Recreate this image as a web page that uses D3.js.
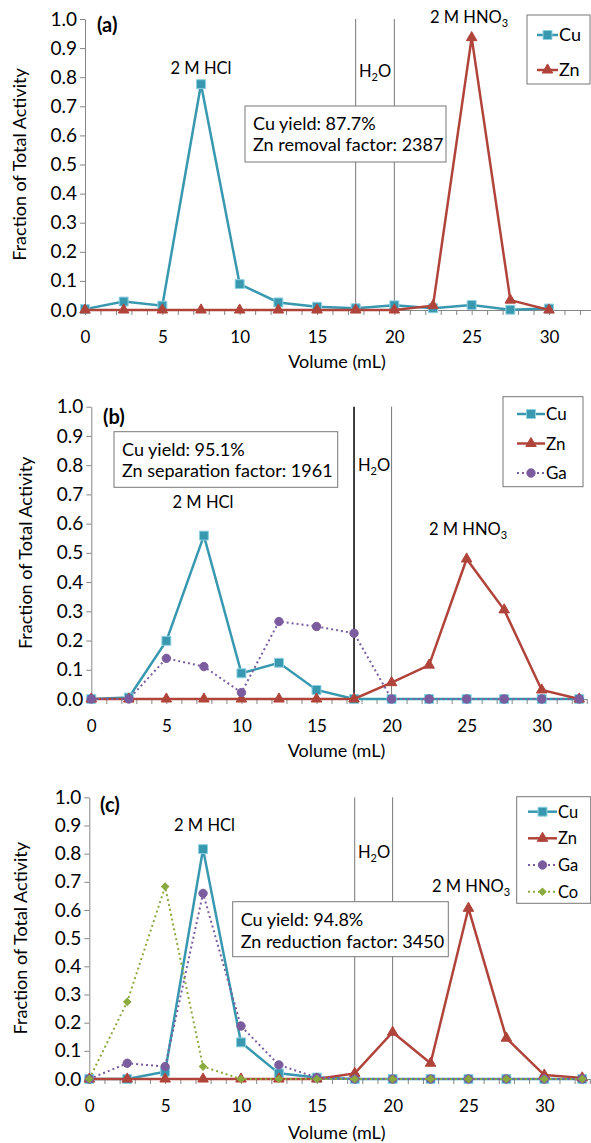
<!DOCTYPE html>
<html>
<head>
<meta charset="utf-8">
<script src="https://cdn.jsdelivr.net/npm/d3@7"></script>
<style>
  body { margin: 0; background: #fff; }
  text { font-family: Lato, "Open Sans", sans-serif; fill: #000; }
</style>
</head>
<body>
<svg width="591" height="1143"></svg>
<script>
// DATA
const volA = [0, 2.5, 5, 7.5, 10, 12.5, 15, 17.5, 20, 22.5, 25, 27.5, 30];
const volBC = [0, 2.5, 5, 7.5, 10, 12.5, 15, 17.5, 20, 22.5, 25, 27.5, 30, 32.5];

const cuA = [0.003, 0.029, 0.015, 0.776, 0.089, 0.026, 0.011, 0.006, 0.016, 0.006, 0.017, 0.001, 0.005];
const znA = [0, 0, 0, 0, 0, 0, 0, 0, 0, 0.015, 0.936, 0.034, 0];

const cuB = [0, 0.005, 0.199, 0.559, 0.088, 0.124, 0.031, 0, 0, 0, 0, 0, 0, 0];
const znB = [0, 0, 0, 0, 0, 0, 0, 0, 0.056, 0.116, 0.479, 0.305, 0.031, 0];
const gaB = [0, 0, 0.139, 0.111, 0.022, 0.265, 0.248, 0.225, 0, 0, 0, 0, 0, 0];

const cuC = [0, 0, 0.026, 0.816, 0.130, 0.020, 0.005, 0, 0, 0, 0, 0, 0, 0];
const znC = [0, 0, 0, 0, 0, 0, 0, 0.020, 0.166, 0.056, 0.606, 0.145, 0.014, 0.004];
const gaC = [0, 0.056, 0.044, 0.659, 0.188, 0.050, 0.005, 0, 0, 0, 0, 0, 0, 0];
const coC = [0, 0.274, 0.683, 0.044, 0, 0, 0, 0, 0, 0, 0, 0, 0, 0];

const yTicks = [0, 0.1, 0.2, 0.3, 0.4, 0.5, 0.6, 0.7, 0.8, 0.9, 1.0];
const xLabels = [0, 5, 10, 15, 20, 25, 30];
const xMinor = d3.range(0, 34);
const waterStart = 17.5;
const waterEnd = 20;

// STYLES
const styles = {
  Cu: { color: '#3798b0', edge: '#8fd0e0', symbol: d3.symbolSquare, size: 80, dash: null, width: 2.5 },
  Zn: { color: '#b0443b', edge: '#b0443b', symbol: d3.symbolTriangle, size: 48, dash: null, width: 2.5 },
  Ga: { color: '#7b5d9f', edge: '#7b5d9f', symbol: d3.symbolCircle, size: 55, dash: '2,3', width: 2 },
  Co: { color: '#8aaa3e', edge: '#8aaa3e', symbol: d3.symbolSquare, size: 26, rotate: 45, dash: '2,3', width: 2 }
};

// PANELS (layout only)
const panels = [
  {
    tag: '(a)', x0: 85, x30: 549, top: 19, bottom: 310,
    series: [['Cu', volA, cuA], ['Zn', volA, znA]],
    strongWater: false,
    tagPos: [97, 32],
    yTitleX: 26, xTitleY: 368,
    hcl: [201, 74], h2o: [359, 77], hno3: [430, 23],
    box: { x: 245, y: 106, w: 201, h: 56, lines: ['Cu yield: 87.7%', 'Zn removal factor: 2387'], ys: [130, 151] },
    legend: { x: 527, y: 15, w: 63, h: 69, rows: [35, 70], l1: 537, l2: 558, fs: 18 }
  },
  {
    tag: '(b)', x0: 91.3, x30: 541.7, top: 406.7, bottom: 699,
    series: [['Cu', volBC, cuB], ['Zn', volBC, znB], ['Ga', volBC, gaB]],
    strongWater: true,
    tagPos: [103, 424],
    yTitleX: 32, xTitleY: 757,
    hcl: [203, 508], h2o: [358, 471], hno3: [429, 535],
    box: { x: 114, y: 431.7, w: 223.7, h: 55.6, lines: ['Cu yield: 95.1%', 'Zn separation factor: 1961'], ys: [456, 477] },
    legend: { x: 503, y: 396.7, w: 80, h: 90, rows: [414, 443.5, 473], l1: 517, l2: 545, fs: 17 }
  },
  {
    tag: '(c)', x0: 89.3, x30: 544.3, top: 797.3, bottom: 1079,
    series: [['Cu', volBC, cuC], ['Zn', volBC, znC], ['Ga', volBC, gaC], ['Co', volBC, coC]],
    strongWater: false,
    tagPos: [100, 812],
    yTitleX: 27, xTitleY: 1139,
    hcl: [204.5, 831], h2o: [358, 858], hno3: [432, 892],
    box: { x: 232.7, y: 901.7, w: 215.6, h: 55, lines: ['Cu yield: 94.8%', 'Zn reduction factor: 3450'], ys: [926, 948] },
    legend: { x: 516.7, y: 796.7, w: 74, h: 106.6, rows: [811.7, 838.3, 865, 891.7], l1: 528, l2: 557, fs: 16.5 }
  }
];

const svg = d3.select('svg');

panels.forEach(drawPanel);

function drawPanel(p) {
  const perMl = (p.x30 - p.x0) / 30;
  const x = d3.scaleLinear().domain([0, 33]).range([p.x0, p.x0 + 33 * perMl]);
  const y = d3.scaleLinear().domain([0, 1]).range([p.bottom, p.top]);
  const g = svg.append('g');

  // water band dividers
  [waterStart, waterEnd].forEach((v, i) => {
    const strong = p.strongWater && i === 0;
    g.append('line')
      .attr('x1', x(v)).attr('x2', x(v))
      .attr('y1', p.top).attr('y2', p.bottom)
      .attr('stroke', strong ? '#000' : '#777')
      .attr('stroke-width', strong ? 1.5 : 1);
  });

  // AXES
  const yAxis = d3.axisLeft(y)
    .tickValues(yTicks)
    .tickFormat(d3.format('.1f'))
    .tickSize(5)
    .tickSizeOuter(0)
    .tickPadding(3);
  const yg = g.append('g')
    .attr('transform', `translate(${x(0)},0)`)
    .call(yAxis);

  const xAxis = d3.axisBottom(x)
    .tickValues(xMinor)
    .tickFormat(d => xLabels.includes(d) ? d : '')
    .tickSize(5)
    .tickSizeOuter(0)
    .tickPadding(16);
  const xg = g.append('g')
    .attr('transform', `translate(0,${p.bottom})`)
    .call(xAxis);

  [yg, xg].forEach(a => {
    a.selectAll('path, line').attr('stroke', '#868686');
    a.selectAll('text').style('font-family', 'Lato, sans-serif').attr('fill', '#000');
  });
  yg.selectAll('text').style('font-size', '19px');
  xg.selectAll('text').style('font-size', '17px');

  // axis titles
  g.append('text')
    .attr('transform', 'rotate(-90)')
    .attr('x', -(p.top + p.bottom) / 2)
    .attr('y', p.yTitleX)
    .style('text-anchor', 'middle')
    .style('font-size', '18px')
    .text('Fraction of Total Activity');

  g.append('text')
    .attr('x', (p.x0 + p.x30) / 2 + 20)
    .attr('y', p.xTitleY)
    .style('text-anchor', 'middle')
    .style('font-size', '18px')
    .text('Volume (mL)');

  // SERIES
  p.series.forEach(([name, vol, vals]) => {
    const s = styles[name];
    const line = d3.line()
      .x((d, i) => x(vol[i]))
      .y(d => y(d));
    g.append('path')
      .datum(vals)
      .attr('d', line)
      .attr('fill', 'none')
      .attr('stroke', s.color)
      .attr('stroke-width', s.width)
      .attr('stroke-dasharray', s.dash);
    g.selectAll(null)
      .data(vals)
      .enter()
      .append('path')
        .attr('d', d3.symbol(s.symbol, s.size))
        .attr('transform', (d, i) => `translate(${x(vol[i])},${y(d)}) rotate(${s.rotate || 0})`)
        .attr('fill', s.color)
        .attr('stroke', s.edge)
        .attr('stroke-width', 1);
  });

  // ANNOTATIONS
  g.append('text')
    .attr('x', p.tagPos[0]).attr('y', p.tagPos[1])
    .style('font-size', '20px').style('font-weight', 'bold')
    .text(p.tag);

  g.append('text')
    .attr('x', p.hcl[0]).attr('y', p.hcl[1])
    .style('text-anchor', 'middle').style('font-size', '16.5px')
    .text('2 M HCl');

  const h2o = g.append('text')
    .attr('x', p.h2o[0]).attr('y', p.h2o[1])
    .style('font-size', '16.5px');
  h2o.append('tspan').text('H');
  h2o.append('tspan').attr('dy', 4).style('font-size', '11px').text('2');
  h2o.append('tspan').attr('dy', -4).text('O');

  const hno3 = g.append('text')
    .attr('x', p.hno3[0]).attr('y', p.hno3[1])
    .style('font-size', '16.5px');
  hno3.append('tspan').text('2 M HNO');
  hno3.append('tspan').attr('dy', 4).style('font-size', '11px').text('3');

  // text box
  const b = p.box;
  g.append('rect')
    .attr('x', b.x).attr('y', b.y).attr('width', b.w).attr('height', b.h)
    .attr('fill', '#fff').attr('stroke', '#777').attr('stroke-width', 1);
  b.lines.forEach((t, i) => {
    g.append('text')
      .attr('x', b.x + 8).attr('y', b.ys[i])
      .style('font-size', '18px')
      .text(t);
  });

  // legend
  const L = p.legend;
  g.append('rect')
    .attr('x', L.x).attr('y', L.y).attr('width', L.w).attr('height', L.h)
    .attr('fill', '#fff').attr('stroke', '#777').attr('stroke-width', 1);
  p.series.forEach(([name], i) => {
    const s = styles[name];
    const ry = L.rows[i];
    g.append('line')
      .attr('x1', L.l1).attr('x2', L.l2).attr('y1', ry).attr('y2', ry)
      .attr('stroke', s.color).attr('stroke-width', s.width)
      .attr('stroke-dasharray', s.dash);
    g.append('path')
      .attr('d', d3.symbol(s.symbol, s.size))
      .attr('transform', `translate(${(L.l1 + L.l2) / 2},${ry}) rotate(${s.rotate || 0})`)
      .attr('fill', s.color).attr('stroke', s.edge).attr('stroke-width', 1);
    g.append('text')
      .attr('x', L.l2 + 1).attr('y', ry)
      .attr('dy', '0.36em')
      .style('font-size', L.fs + 'px')
      .text(name);
  });
}
</script>
</body>
</html>
